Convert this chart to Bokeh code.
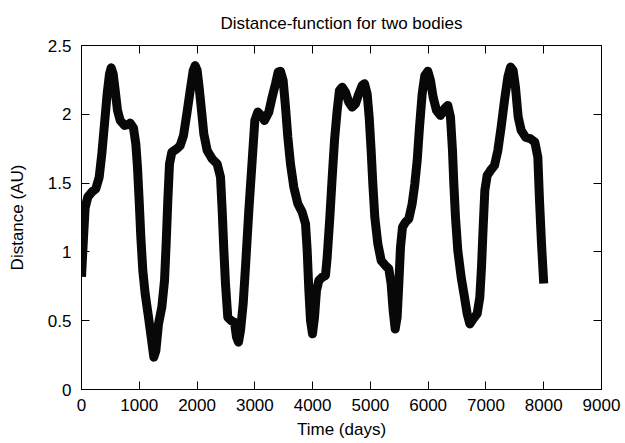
from bokeh.plotting import figure
from bokeh.models import LinearAxis, FixedTicker, CustomJSTickFormatter, Range1d
from bokeh.embed import file_html
from bokeh.resources import INLINE

time_days = [0, 35, 63, 110, 179, 248, 306, 352, 398, 444, 485, 513, 548, 583,
             623, 669, 744, 813, 842, 900, 940, 969, 998, 1027, 1061, 1102, 1160,
             1206, 1252, 1287, 1333, 1390, 1437, 1465, 1494, 1523, 1563, 1650,
             1708, 1765, 1823, 1881, 1933, 1967, 2002, 2036, 2083, 2117, 2175,
             2262, 2348, 2406, 2435, 2464, 2492, 2532, 2590, 2648, 2683, 2717,
             2752, 2798, 2838, 2896, 2954, 3000, 3052, 3110, 3167, 3242, 3300,
             3358, 3404, 3444, 3490, 3531, 3571, 3617, 3675, 3744, 3819, 3877,
             3906, 3935, 3964, 3998, 4033, 4067, 4108, 4166, 4223, 4252, 4298,
             4339, 4379, 4425, 4465, 4512, 4569, 4627, 4685, 4742, 4800, 4858,
             4898, 4944, 4979, 5013, 5042, 5077, 5129, 5187, 5262, 5319, 5359,
             5394, 5429, 5463, 5492, 5521, 5556, 5608, 5665, 5723, 5769, 5810,
             5850, 5896, 5942, 5994, 6040, 6086, 6144, 6213, 6282, 6340, 6386,
             6421, 6444, 6473, 6513, 6571, 6629, 6675, 6721, 6779, 6848, 6894,
             6923, 6952, 6981, 7021, 7079, 7148, 7206, 7263, 7321, 7379, 7425,
             7471, 7511, 7558, 7610, 7685, 7771, 7846, 7898, 7927, 7962, 8000]
distance_au = [0.82, 1.107, 1.32, 1.40, 1.435, 1.459, 1.543, 1.713, 1.931, 2.149,
               2.294, 2.338, 2.294, 2.174, 2.028, 1.956, 1.919, 1.927, 1.936,
               1.90, 1.785, 1.616, 1.374, 1.107, 0.865, 0.695, 0.525, 0.38, 0.235,
               0.283, 0.477, 0.598, 0.792, 1.058, 1.374, 1.64, 1.724, 1.749, 1.773,
               1.845, 2.003, 2.172, 2.318, 2.354, 2.318, 2.197, 2.003, 1.858,
               1.737, 1.676, 1.64, 1.543, 1.30, 1.01, 0.768, 0.525, 0.50, 0.488,
               0.38, 0.344, 0.429, 0.622, 0.889, 1.30, 1.664, 1.955, 2.016, 1.992,
               1.955, 2.016, 2.125, 2.222, 2.307, 2.313, 2.246, 2.052, 1.834, 1.64,
               1.47, 1.35, 1.289, 1.204, 1.01, 0.72, 0.50, 0.405, 0.525, 0.72,
               0.792, 0.816, 0.829, 0.961, 1.25, 1.543, 1.81, 2.028, 2.174, 2.197,
               2.16, 2.088, 2.052, 2.076, 2.149, 2.21, 2.222, 2.149, 1.98, 1.737,
               1.495, 1.25, 1.058, 0.937, 0.90, 0.877, 0.768, 0.574, 0.44, 0.525,
               0.768, 1.034, 1.18, 1.216, 1.24, 1.35, 1.495, 1.664, 1.907, 2.149,
               2.282, 2.313, 2.246, 2.125, 2.028, 1.992, 2.04, 2.064, 1.98, 1.737,
               1.495, 1.25, 1.01, 0.816, 0.67, 0.55, 0.477, 0.513, 0.55, 0.67,
               0.889, 1.18, 1.447, 1.555, 1.592, 1.628, 1.737, 1.907, 2.10, 2.27,
               2.343, 2.318, 2.197, 1.98, 1.883, 1.834, 1.822, 1.798, 1.688, 1.374,
               1.058, 0.77]

x_ticks = [0, 1000, 2000, 3000, 4000, 5000, 6000, 7000, 8000, 9000]
y_ticks = [0, 0.5, 1, 1.5, 2, 2.5]
y_tick_labels = ["0", "0.5", "1", "1.5", "2", "2.5"]

FONT = "Liberation Sans"
FS = "17px"

p = figure(width=625, height=443, output_backend="svg", toolbar_location=None,
           x_range=Range1d(0, 9000), y_range=Range1d(0, 2.5),
           title="Distance-function for two bodies",
           x_axis_label="Time (days)", y_axis_label="Distance (AU)",
           min_border_left=81, min_border_right=24, min_border_top=45,
           min_border_bottom=54)
p.xgrid.visible = False
p.ygrid.visible = False
p.outline_line_color = "black"
p.outline_line_width = 1
p.background_fill_color = "white"
p.border_fill_color = "white"

p.title.align = "center"
p.title.text_font = FONT
p.title.text_font_size = FS
p.title.text_font_style = "normal"
p.title.text_color = "black"
p.title.standoff = 22
p.title.vertical_align = "top"

for ax in (p.xaxis[0], p.yaxis[0]):
    ax.major_tick_in = 8
    ax.major_tick_out = 0
    ax.minor_tick_line_color = None
    ax.axis_line_color = "black"
    ax.major_tick_line_color = "black"
    ax.major_label_text_font = FONT
    ax.major_label_text_font_size = FS
    ax.major_label_text_color = "black"
    ax.axis_label_text_font = FONT
    ax.axis_label_text_font_size = FS
    ax.axis_label_text_font_style = "normal"
    ax.axis_label_text_color = "black"

p.xaxis[0].ticker = FixedTicker(ticks=x_ticks)
p.yaxis[0].ticker = FixedTicker(ticks=y_ticks)
p.yaxis[0].major_label_overrides = {t: l for t, l in zip(y_ticks, y_tick_labels)}
p.xaxis[0].major_label_standoff = 9
p.yaxis[0].major_label_standoff = 10
p.xaxis[0].axis_label_standoff = 6
p.yaxis[0].axis_label_standoff = 18

blank = CustomJSTickFormatter(code="return ''")
top = LinearAxis(ticker=FixedTicker(ticks=x_ticks), formatter=blank,
                 major_tick_in=8, major_tick_out=0, minor_tick_line_color=None,
                 major_label_standoff=0, major_label_text_font_size="0px",
                 axis_line_color="black")
right = LinearAxis(ticker=FixedTicker(ticks=y_ticks), formatter=blank,
                   major_tick_in=8, major_tick_out=0, minor_tick_line_color=None,
                   major_label_standoff=0, major_label_text_font_size="0px",
                   axis_line_color="black")
p.add_layout(top, "above")
p.add_layout(right, "right")

p.line(time_days, distance_au, line_width=9, line_color="#080808",
       line_join="round", line_cap="butt")

open("out.html", "w").write(file_html(p, INLINE))
